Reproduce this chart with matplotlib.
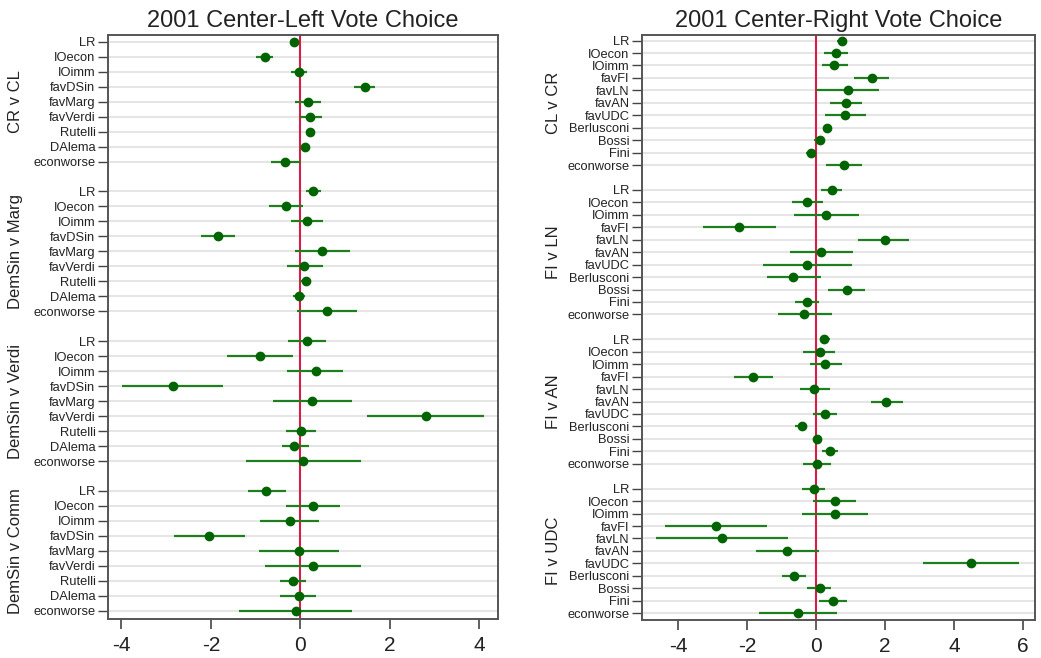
import numpy as np
import matplotlib
matplotlib.use("Agg")
import matplotlib.pyplot as plt

plt.rcParams["font.family"] = ["Liberation Sans", "DejaVu Sans"]

# Left panel: 2001 Center-Left vote choice
left_vars = ["LR", "IOecon", "IOimm", "favDSin", "favMarg", "favVerdi", "Rutelli", "DAlema", "econworse"]
left_groups = ["CR v CL", "DemSin v Marg", "DemSin v Verdi", "DemSin v Comm"]
left_coef = [
    [-0.13, -0.80, -0.02, 1.45, 0.17, 0.22, 0.22, 0.10, -0.34],
    [0.28, -0.33, 0.15, -1.85, 0.49, 0.09, 0.13, -0.04, 0.60],
    [0.15, -0.89, 0.34, -2.85, 0.26, 2.80, 0.01, -0.13, 0.07],
    [-0.76, 0.28, -0.24, -2.04, -0.02, 0.28, -0.16, -0.04, -0.10],
]
left_lo = [
    [-0.18, -0.98, -0.20, 1.21, -0.12, -0.01, 0.14, 0.04, -0.65],
    [0.13, -0.71, -0.20, -2.23, -0.11, -0.29, 0.00, -0.17, -0.08],
    [-0.27, -1.63, -0.29, -3.98, -0.62, 1.49, -0.32, -0.40, -1.21],
    [-1.18, -0.31, -0.90, -2.83, -0.93, -0.80, -0.46, -0.46, -1.36],
]
left_hi = [
    [-0.08, -0.62, 0.15, 1.68, 0.46, 0.48, 0.30, 0.16, 0.02],
    [0.47, 0.06, 0.50, -1.47, 1.12, 0.50, 0.25, 0.10, 1.26],
    [0.57, -0.16, 0.96, -1.73, 1.15, 4.11, 0.35, 0.19, 1.35],
    [-0.33, 0.89, 0.42, -1.24, 0.86, 1.36, 0.13, 0.36, 1.16],
]

# Right panel: 2001 Center-Right vote choice
right_vars = ["LR", "IOecon", "IOimm", "favFI", "favLN", "favAN", "favUDC", "Berlusconi", "Bossi", "Fini", "econworse"]
right_groups = ["CL v CR", "FI v LN", "FI v AN", "FI v UDC"]
right_coef = [
    [0.74, 0.57, 0.53, 1.61, 0.92, 0.87, 0.85, 0.33, 0.12, -0.15, 0.80],
    [0.45, -0.25, 0.30, -2.23, 2.00, 0.14, -0.27, -0.66, 0.89, -0.27, -0.34],
    [0.23, 0.10, 0.27, -1.83, -0.06, 2.04, 0.26, -0.41, 0.02, 0.39, 0.03],
    [-0.07, 0.54, 0.54, -2.89, -2.73, -0.83, 4.48, -0.63, 0.11, 0.48, -0.52],
]
right_lo = [
    [0.60, 0.23, 0.17, 1.11, 0.00, 0.41, 0.27, 0.21, -0.07, -0.29, 0.29],
    [0.14, -0.70, -0.64, -3.29, 1.23, -0.77, -1.55, -1.43, 0.35, -0.61, -1.11],
    [0.12, -0.37, -0.19, -2.39, -0.46, 1.59, -0.08, -0.61, -0.05, 0.16, -0.39],
    [-0.40, -0.08, -0.41, -4.38, -4.65, -1.74, 3.09, -0.98, -0.25, 0.09, -1.65],
]
right_hi = [
    [0.91, 0.92, 0.92, 2.12, 1.82, 1.33, 1.45, 0.45, 0.26, -0.02, 1.33],
    [0.75, 0.21, 1.25, -1.17, 2.71, 1.06, 1.03, 0.13, 1.43, 0.09, 0.46],
    [0.39, 0.55, 0.74, -1.25, 0.39, 2.51, 0.60, -0.25, 0.09, 0.63, 0.43],
    [0.27, 1.16, 1.50, -1.43, -0.82, 0.08, 5.88, -0.29, 0.44, 0.91, 0.62],
]

dot_col = "#006400"
ci_col = "#1f7f1f"
zero_col = "#d81b47"
grid_col = "#e3e3e3"
frame_col = "#555555"


def coef_panel(ax, title, vars_, groups, coef, lo, hi, xlim, xticks, lab_x):
    n = len(vars_)
    ypos_all, labels = [], []
    for g, name in enumerate(groups):
        y = np.arange(n) + g * (n + 1)
        ypos_all.extend(y)
        labels.extend(vars_)
        ax.hlines(y, lo[g], hi[g], color=ci_col, lw=1.6, zorder=3)
        ax.plot(coef[g], y, "o", color=dot_col, ms=6, zorder=4)
        ax.text(lab_x, y.mean(), name, rotation=90, ha="center", va="center",
                fontsize=12, color="#222222", transform=ax.get_yaxis_transform())
    for y in ypos_all:
        ax.axhline(y, color=grid_col, lw=1.3, zorder=1)
    ax.axvline(0, color=zero_col, lw=1.5, zorder=2)
    ax.set_yticks(ypos_all)
    ax.set_yticklabels(labels, fontsize=9.3, color="#222222")
    ax.set_ylim(ypos_all[-1] + 0.55, -0.45)
    ax.set_xlim(*xlim)
    ax.set_xticks(xticks)
    ax.set_xticklabels([str(t) for t in xticks], fontsize=15, color="#222222")
    ax.tick_params(axis="y", length=7, width=1, color="#444444", pad=2)
    ax.tick_params(axis="x", length=7, width=1.2, color="#444444", pad=5)
    for s in ax.spines.values():
        s.set_color(frame_col)
        s.set_linewidth(1.4)
    ax.set_title(title, fontsize=17, color="#222222", pad=6)


fig = plt.figure(figsize=(10.41, 6.58), dpi=100)
ax1 = fig.add_axes([0.1037, 0.0593, 0.3747, 0.8875])
ax2 = fig.add_axes([0.6167, 0.0578, 0.3775, 0.8890])

coef_panel(ax1, "2001 Center-Left Vote Choice", left_vars, left_groups,
           left_coef, left_lo, left_hi, (-4.3, 4.42), [-4, -2, 0, 2, 4], -0.236)
coef_panel(ax2, "2001 Center-Right Vote Choice", right_vars, right_groups,
           right_coef, right_lo, right_hi, (-5.05, 6.35), [-4, -2, 0, 2, 4, 6], -0.226)

fig.savefig("out.png", dpi=100)
